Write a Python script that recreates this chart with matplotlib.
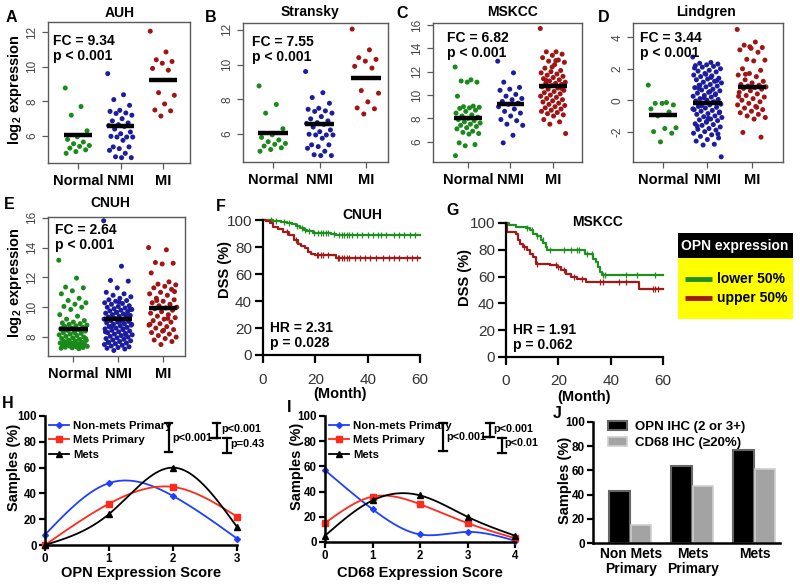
import numpy as np
import matplotlib
matplotlib.use('Agg')
import matplotlib.pyplot as plt
from matplotlib.patches import Rectangle, Patch
from matplotlib.lines import Line2D

plt.rcParams['font.family'] = ['Liberation Sans', 'DejaVu Sans']
plt.rcParams['mathtext.fontset'] = 'custom'
plt.rcParams['mathtext.bf'] = 'Liberation Sans:bold'
plt.rcParams['mathtext.rm'] = 'Liberation Sans:bold'
plt.rcParams['mathtext.default'] = 'bf'

# ---------------- data ----------------
groups = ["Normal", "NMI", "MI"]

auh_normal = [8.77, 7.7, 7.2, 6.3, 5.95, 5.8, 5.65, 5.55, 5.45, 5.4, 5.3, 5.2, 5.1, 5.0]
auh_nmi = [9.6, 8.38, 8.1, 7.77, 7.48, 7.42, 7.33, 7.3, 7.2, 7.0, 6.87, 6.75, 6.65, 6.6, 6.55,
           6.4, 6.23, 6.13, 5.98, 5.94, 5.94, 5.94, 5.75, 5.37, 5.37, 5.27, 5.17, 5.0, 4.8, 4.75, 4.75]
auh_mi = [12.05, 10.85, 10.4, 10.3, 10.2, 9.9, 9.8, 8.5, 8.35, 7.85, 7.5, 7.45, 7.15]
auh_means = [6.05, 6.6, 9.25]

stransky_normal = list(auh_normal)
stransky_nmi = list(auh_nmi)
stransky_mi = list(auh_mi)
stransky_means = [6.05, 6.6, 9.25]

mskcc_normal = [12.4, 11.3, 11.2, 11.1, 11.1, 9.9, 9.05, 9.0, 8.95, 8.9, 8.85, 8.7, 8.6, 8.45, 8.3,
                8.2, 8.1, 8.0, 7.9, 7.8, 7.7, 7.6, 7.5, 7.4, 7.3, 7.2, 7.1, 6.9, 6.8, 6.7, 6.65,
                5.9, 5.75, 5.65, 4.8]
mskcc_nmi = [12.9, 11.9, 11.1, 10.65, 10.5, 10.4, 10.05, 9.9, 9.7, 9.6, 9.45, 9.3, 9.2, 9.0, 8.8,
             8.6, 8.45, 8.2, 7.9, 7.8, 7.5, 7.4, 6.55, 5.9]
mskcc_mi = [15.7, 13.7, 13.7, 13.5, 13.4, 13.2, 13.0, 12.9, 12.8, 12.6, 12.3, 12.1, 12.0, 11.9, 11.8,
            11.7, 11.6, 11.5, 11.4, 11.3, 11.2, 11.1, 11.0, 11.0, 10.9, 10.8, 10.7, 10.6, 10.5, 10.4,
            10.3, 10.2, 10.1, 10.0, 9.9, 9.8, 9.7, 9.6, 9.5, 9.4, 9.3, 9.2, 9.1, 9.0, 8.9, 8.8, 8.7,
            8.6, 8.5, 8.4, 8.3, 8.2, 7.9, 7.7, 7.5, 6.7, 12.95, 11.25, 10.55, 12.4]
mskcc_means = [8.05, 9.25, 10.8]

lindgren_normal = [0.96, -0.15, -0.2, -0.3, -0.2, -0.55, -0.75, -1.0, -1.75, -1.8, -2.0, -2.1, -2.65]
lindgren_nmi = [2.75, 2.4, 2.35, 2.3, 2.25, 2.2, 2.15, 2.1, 2.0, 1.9, 1.85, 1.8, 1.7, 1.6, 1.55, 1.5,
                1.4, 1.35, 1.3, 1.2, 1.15, 1.1, 1.0, 0.95, 0.9, 0.85, 0.8, 0.7, 0.65, 0.6, 0.5, 0.45,
                0.4, 0.3, 0.25, 0.2, 0.1, 0.05, 0.0, -0.05, -0.1, -0.2, -0.25, -0.3, -0.4, -0.45,
                -0.5, -0.6, -0.65, -0.7, -0.8, -0.85, -0.9, -1.0, -1.05, -1.1, -1.2, -1.25, -1.3,
                -1.4, -1.5, -1.55, -1.6, -1.7, -1.8, -1.85, -1.9, -2.0, -2.1, -2.2, -2.3, -2.4,
                -2.5, -2.6, -2.8, -2.85, -3.6, 0.55, 0.75, 1.25, 1.65, 2.05, -0.15, -0.35, -0.75,
                -1.15, -1.65, 0.35, 0.15, -0.55, 1.45, 0.95, -2.15, -1.35]
lindgren_mi = [4.5, 3.7, 3.5, 3.35, 3.3, 3.2, 3.05, 2.6, 2.55, 2.5, 2.0, 1.9, 1.7, 1.6, 1.5, 1.3, 1.2,
               1.1, 1.0, 0.95, 0.9, 0.85, 0.8, 0.75, 0.7, 0.6, 0.5, 0.4, 0.3, 0.2, 0.1, 0.0, -0.1,
               -0.2, -0.3, -0.4, -0.5, -0.6, -0.7, -0.8, -0.9, -1.0, -1.1, -1.2, -2.05, -2.35, 3.4,
               0.25, -0.45, 1.65]
lindgren_means = [-0.95, -0.15, 0.85]

cnuh_normal = [13.15, 11.95, 11.35, 11.3, 11.1, 10.9, 10.6, 10.45, 10.3, 10.2, 10.05, 10.0, 9.85,
               9.5, 9.4, 9.2, 9.1, 9.0, 8.95, 8.9, 8.85, 8.8, 8.75, 8.7, 8.65, 8.6, 8.55, 8.5, 8.45,
               8.4, 8.35, 8.3, 8.25, 8.2, 8.15, 8.1, 8.05, 8.0, 7.95, 7.9, 7.85, 7.8, 7.78, 7.75,
               7.7, 7.65, 7.62, 7.6, 7.55, 7.52, 7.5, 7.48, 7.45, 7.42, 7.4, 7.38, 7.35, 7.32, 7.3,
               7.28, 7.25, 7.22, 7.6, 7.9, 8.3, 8.7, 7.35, 7.45]
cnuh_nmi = [15.8, 12.75, 11.8, 11.75, 11.3, 11.0, 10.9, 10.8, 10.7, 10.6, 10.5, 10.45, 10.4, 10.3,
            10.25, 10.2, 10.1, 10.05, 10.0, 9.95, 9.9, 9.85, 9.8, 9.75, 9.7, 9.65, 9.6, 9.55, 9.5,
            9.45, 9.4, 9.35, 9.3, 9.25, 9.2, 9.15, 9.1, 9.05, 9.0, 8.95, 8.9, 8.85, 8.8, 8.75, 8.7,
            8.65, 8.6, 8.55, 8.5, 8.45, 8.4, 8.35, 8.3, 8.25, 8.2, 8.15, 8.1, 8.05, 8.0, 7.95, 7.9,
            7.85, 7.8, 7.75, 7.7, 7.65, 7.6, 7.55, 7.5, 7.45, 7.4, 7.35, 7.3, 7.25, 7.2, 7.1,
            8.85, 9.05, 9.25, 9.45, 9.65, 8.35, 8.55, 8.75, 9.85, 10.35, 7.65, 8.15]
cnuh_mi = [14.0, 13.85, 13.0, 12.95, 12.9, 12.3, 11.7, 11.55, 11.5, 11.4, 11.3, 11.2, 11.0, 10.9,
           10.8, 10.6, 10.5, 10.4, 10.3, 10.2, 10.1, 10.0, 9.95, 9.9, 9.8, 9.7, 9.6, 9.5, 9.4, 9.3,
           9.2, 9.1, 9.0, 8.9, 8.8, 8.7, 8.6, 8.5, 8.4, 8.3, 8.2, 8.1, 8.0, 7.9, 7.8, 7.7, 7.5,
           8.85, 9.25, 10.45, 11.05, 8.45]
cnuh_means = [8.55, 9.2, 9.95]

# Kaplan-Meier (F: CNUH, G: MSKCC)
f_low_t = [0, 4, 7, 9, 11, 12.5, 14, 15.5, 17, 19, 26, 28]
f_low_s = [100, 99.5, 98.8, 98, 97, 95.5, 94, 92.5, 91.5, 90.5, 89.5, 88.7]
f_low_c = [3, 5, 8, 10, 13, 15, 16, 17.5, 19.5, 21, 22, 23, 24, 25, 27, 29, 30, 31, 32, 33, 34, 36,
           38, 40, 42, 44, 45, 47, 50, 52, 54, 56, 58]
f_up_t = [0, 1.3, 2.5, 3.8, 5.7, 7.6, 10, 12, 13.4, 14.6, 16, 17.2, 18.5, 20, 27.8]
f_up_s = [100, 99, 97.5, 95, 93, 91, 88.7, 85.5, 82.5, 81, 79, 76, 75, 74, 72]
f_up_c = [9, 12.5, 20.5, 21, 22, 23, 25, 28.5, 29, 30, 31, 32, 33, 35, 37, 39, 41, 43, 46, 48, 50,
          52, 55, 57, 59]

g_low_t = [0, 1.3, 4, 7.6, 9, 10.4, 12, 13.2, 14.2, 15.2, 15.8, 30.1, 33.3, 34.5, 35.2, 35.8, 36.5]
g_low_s = [100, 98.5, 97, 96, 94.5, 92, 90, 87.5, 85, 82, 80, 76.6, 73.4, 71, 67, 63.4, 61]
g_low_c = [8, 10, 12, 14, 17, 22, 25, 27, 28, 31, 33, 37, 38, 46, 50, 57]
g_up_t = [0, 0.5, 4, 4.7, 5.3, 6.6, 7.9, 9.1, 10.4, 11.4, 16.8, 19.3, 21.2, 23.1, 25, 27, 30.7, 51]
g_up_s = [100, 93.3, 92, 87, 84.6, 82, 79.6, 77, 74.6, 69.7, 68.4, 67, 64.7, 62.2, 59.7, 58, 56, 51]
g_up_c = [7, 12, 19, 20, 22, 26, 29, 36, 37, 43, 46, 56, 57, 58]
km_legend = ["lower 50%", "upper 50%"]

# H: OPN expression score
opn_score = [0, 1, 2, 3]
opn_nonmets = [8, 48, 38, 5]
opn_metsprim = [0, 32, 45, 22]
opn_mets = [0, 24, 60, 14]
# I: CD68 expression score
cd68_score = [0, 1, 2, 3, 4]
cd68_nonmets = [57, 26, 6, 8, 1]
cd68_metsprim = [15, 36, 30, 15, 3]
cd68_mets = [5, 33, 37, 20, 5]
series_names = ["Non-mets Primary", "Mets Primary", "Mets"]
# J bars
j_categories = ["Non Mets\nPrimary", "Mets\nPrimary", "Mets"]
j_opn = [43, 64, 77]
j_cd68 = [15, 47, 61]
j_names = ["OPN IHC (2 or 3+)", "CD68 IHC (\u226520%)"]

# ---------------- helpers ----------------
W, H = 800, 587
fig = plt.figure(figsize=(W / 100, H / 100), dpi=100)


def px_ax(l, t, r, b):
    return fig.add_axes([l / W, 1 - b / H, (r - l) / W, (b - t) / H])


def ftext(x, y, s, **kw):
    kw.setdefault('ha', 'center')
    kw.setdefault('va', 'center')
    return fig.text(x / W, 1 - y / H, s, **kw)


GREEN, BLUE, RED = '#1a8a1a', '#1c1c9e', '#a01414'
BOX = '#5a5a5a'


def scatter_panel(rect, xlim, ylim, yticks, data, means, amp=0.3):
    ax = px_ax(*rect)
    for i, (vals, col) in enumerate(zip(data, [GREEN, BLUE, RED])):
        v = np.asarray(vals, float)
        n = len(v)
        off = ((np.arange(n) * 0.6180339887) % 1.0 - 0.5) * 2 * amp
        ax.scatter(i + 1 + off, v, s=13, c=col, edgecolors='none', zorder=2)
        ax.plot([i + 1 - 0.32, i + 1 + 0.32], [means[i], means[i]], color='k', lw=3.2,
                solid_capstyle='butt', zorder=3)
    ax.set_xlim(*xlim)
    ax.set_ylim(*ylim)
    ax.set_xticks([1, 2, 3])
    ax.set_xticklabels(groups, fontsize=10.5, fontweight='bold')
    ax.set_yticks(yticks)
    ax.set_yticklabels([str(t) for t in yticks], rotation=90, va='center', fontsize=8.5,
                       color='#444444')
    for s in ax.spines.values():
        s.set_color(BOX)
        s.set_linewidth(1.0)
    ax.tick_params(axis='both', colors=BOX, length=4, width=0.9)
    ax.tick_params(axis='x', labelcolor='k', pad=4)
    ax.tick_params(axis='y', labelcolor='#444444', pad=3)
    return ax


scatter_panel((48, 22, 190, 163), (0.294, 3.635), (4.44, 12.58), [6, 8, 10, 12],
              (auh_normal, auh_nmi, auh_mi), auh_means)
scatter_panel((243, 23, 388, 162), (0.355, 3.47), (4.38, 12.4), [6, 8, 10, 12],
              (stransky_normal, stransky_nmi, stransky_mi), stransky_means)
scatter_panel((433, 23, 582, 162), (0.18, 3.68), (4.26, 16.17), [6, 8, 10, 12, 14, 16],
              (mskcc_normal, mskcc_nmi, mskcc_mi), mskcc_means)
scatter_panel((633, 23, 783, 162), (0.326, 3.70), (-3.93, 4.91), [-2, 0, 2, 4],
              (lindgren_normal, lindgren_nmi, lindgren_mi), lindgren_means, amp=0.33)
scatter_panel((48, 217, 185, 356), (0.44, 3.49), (6.73, 16.05), [8, 10, 12, 14, 16],
              (cnuh_normal, cnuh_nmi, cnuh_mi), cnuh_means, amp=0.32)

# titles / annotations for scatter panels
for (tx, ty, title) in [(120, 13, "AUH"), (310, 12, "Stransky"), (513, 12, "MSKCC"),
                        (706, 12, "Lindgren"), (110, 203, "CNUH")]:
    ftext(tx, ty, title, fontsize=10, fontweight='bold')
for (x, y, fc) in [(53, 41, "FC = 9.34"), (252, 42, "FC = 7.55"), (447, 38, "FC = 6.82"),
                   (640, 38, "FC = 3.44"), (55, 230, "FC = 2.64")]:
    ftext(x, y, fc, ha='left', fontsize=10, fontweight='bold')
    ftext(x, y + 15, "p < 0.001", ha='left', fontsize=10, fontweight='bold')
ftext(15, 90, "log$_2$ expression", rotation=90, fontsize=10.5, fontweight='bold')
ftext(15, 283, "log$_2$ expression", rotation=90, fontsize=10.5, fontweight='bold')

# panel letters
for (x, y, L) in [(11, 17, "A"), (211, 17, "B"), (402, 13, "C"), (604, 17, "D"), (9, 205, "E"),
                  (221, 207, "F"), (453, 210, "G"), (8, 404, "H"), (289, 408, "I"),
                  (557, 413, "J")]:
    ftext(x, y, L, fontsize=11.5, fontweight='bold')

# ---------------- KM panels ----------------
KM_GREEN, KM_RED = '#1f8f1f', '#a11a1a'


def km_panel(rect, curves, title_xy, title, hr, p, ylab_xy, xlab_xy, xpad):
    ax = px_ax(*rect)
    for t, s, c, col in curves:
        t = list(t) + [60]
        s = list(s) + [s[-1]]
        ax.step(t, s, where='post', color=col, lw=1.6, clip_on=False)
        tt = np.asarray(t, float)
        ss = np.asarray(s, float)
        cy = ss[np.searchsorted(tt, c, side='right') - 1]
        ax.plot(c, cy, ls='none', marker='|', ms=4, mew=0.9, color=col, clip_on=False)
    ax.set_xlim(0, 60)
    ax.set_ylim(0, 100)
    ax.set_xticks([0, 20, 40, 60])
    ax.set_yticks([0, 20, 40, 60, 80, 100])
    for k in ['top', 'right']:
        ax.spines[k].set_visible(False)
    for k in ['left', 'bottom']:
        ax.spines[k].set_linewidth(1.6)
    ax.tick_params(length=6, width=1.6, labelsize=11, labelcolor='#333333')
    ax.tick_params(axis='x', pad=xpad)
    ax.tick_params(axis='y', pad=2)
    ax.set_ylabel("DSS (%)", fontsize=10.5, fontweight='bold', va='center')
    ax.yaxis.set_label_coords(*ylab_xy)
    ax.set_xlabel("(Month)", fontsize=10.5, fontweight='bold', va='center')
    ax.xaxis.set_label_coords(*xlab_xy)
    ax.text(title_xy[0], title_xy[1], title, ha='center', va='center', fontsize=10,
            fontweight='bold')
    ax.text(2.8, 20, hr, ha='left', va='center', fontsize=10, fontweight='bold')
    ax.text(2.8, 9, p, ha='left', va='center', fontsize=10, fontweight='bold')
    return ax


km_panel((263, 220, 420, 355),
         [(f_low_t, f_low_s, f_low_c, KM_GREEN), (f_up_t, f_up_s, f_up_c, KM_RED)],
         (38, 104), "CNUH", "HR = 2.31", "p = 0.028", (-0.245, 0.63), (0.49, -0.29), 7)
km_panel((506, 223, 663, 357),
         [(g_low_t, g_low_s, g_low_c, KM_GREEN), (g_up_t, g_up_s, g_up_c, KM_RED)],
         (35, 101), "MSKCC", "HR = 1.91", "p = 0.062", (-0.26, 0.59), (0.50, -0.295), 6.5)

# KM legend box
lax = px_ax(678, 233, 793, 319)
lax.set_xlim(678, 793)
lax.set_ylim(319, 233)
lax.axis('off')
lax.add_patch(Rectangle((678, 233), 115, 25, facecolor='black', edgecolor='none'))
lax.add_patch(Rectangle((678, 258), 115, 61, facecolor='#ffff00', edgecolor='none'))
lax.text(735, 246, "OPN expression", color='white', ha='center', va='center', fontsize=10,
         fontweight='bold')
for yy, col, lab in [(279, KM_GREEN, km_legend[0]), (298, KM_RED, km_legend[1])]:
    lax.plot([685, 712], [yy, yy], color=col, lw=3.5, solid_capstyle='butt')
    lax.text(717, yy, lab, ha='left', va='center', fontsize=10, fontweight='bold')

# ---------------- H / I line panels ----------------
def nat_spline(x, y, num=200):
    x = np.asarray(x, float)
    y = np.asarray(y, float)
    n = len(x)
    h = np.diff(x)
    A = np.zeros((n, n))
    rhs = np.zeros(n)
    A[0, 0] = A[-1, -1] = 1
    for i in range(1, n - 1):
        A[i, i - 1] = h[i - 1]
        A[i, i] = 2 * (h[i - 1] + h[i])
        A[i, i + 1] = h[i]
        rhs[i] = 6 * ((y[i + 1] - y[i]) / h[i] - (y[i] - y[i - 1]) / h[i - 1])
    M = np.linalg.solve(A, rhs)
    xs = np.linspace(x[0], x[-1], num)
    idx = np.clip(np.searchsorted(x, xs) - 1, 0, n - 2)
    x0, x1 = x[idx], x[idx + 1]
    hh = x1 - x0
    a = (x1 - xs) / hh
    b = (xs - x0) / hh
    ys = a * y[idx] + b * y[idx + 1] + ((a ** 3 - a) * M[idx] + (b ** 3 - b) * M[idx + 1]) * hh ** 2 / 6
    return xs, ys


LBLUE, LRED = '#1f3fff', '#ff2a1a'
PFS = 7.8


def bracket(ax, x, y0, y1, cw):
    ax.plot([x, x], [y0, y1], color='k', lw=1.6, clip_on=False)
    ax.plot([x - cw, x + cw], [y0, y0], color='k', lw=1.6, clip_on=False)
    ax.plot([x - cw, x + cw], [y1, y1], color='k', lw=1.6, clip_on=False)


def line_panel(rect, xs, series, xlabel, brk, xlab_y, ylab_xy):
    ax = px_ax(*rect)
    styles = [(LBLUE, 'D', 3.0), (LRED, 's', 4.6), ('k', '^', 4.3)]
    handles = []
    for ys, (col, mk, ms), name in zip(series, styles, series_names):
        sx, sy = nat_spline(xs, ys)
        ax.plot(sx, sy, color=col, lw=1.3, clip_on=False)
        ax.plot(xs, ys, ls='none', marker=mk, ms=ms, color=col, clip_on=False)
        handles.append(Line2D([], [], color=col, lw=1.3, marker=mk, ms=ms))
    ax.set_xlim(xs[0], xs[-1])
    ax.set_ylim(0, 100)
    ax.set_xticks(xs)
    ax.set_yticks([0, 20, 40, 60, 80, 100])
    for k in ['top', 'right']:
        ax.spines[k].set_visible(False)
    for k in ['left', 'bottom']:
        ax.spines[k].set_linewidth(1.8)
    ax.tick_params(length=4, width=1.6, labelsize=8.3, pad=2)
    for lab in ax.get_xticklabels() + ax.get_yticklabels():
        lab.set_fontweight('bold')
    ax.set_xlabel(xlabel, fontsize=10.5, fontweight='bold', va='center')
    ax.xaxis.set_label_coords(0.5, xlab_y)
    ax.set_ylabel("Samples (%)", fontsize=10.5, fontweight='bold', va='center')
    ax.yaxis.set_label_coords(*ylab_xy)
    ax.legend(handles, series_names, loc='upper left', bbox_to_anchor=(-0.005, 1.0),
              frameon=False, handlelength=1.75, handletextpad=0.4, labelspacing=0.4,
              prop={'weight': 'bold', 'size': 8.2}, borderaxespad=0)
    (b1x, b1y0, b1y1, t1x, t1y, hx0, hx1, hy,
     b2x, b2y0, b2y1, t2x, t2y, b3x, b3y0, b3y1, t3x, t3y, t3, cw) = brk
    bracket(ax, b1x, b1y0, b1y1, cw)
    ax.text(t1x, t1y, "p<0.001", ha='left', va='center', fontsize=PFS, fontweight='bold')
    ax.plot([hx0, hx1], [hy, hy], color='k', lw=1.6, clip_on=False)
    bracket(ax, b2x, b2y0, b2y1, cw)
    ax.text(t2x, t2y, "p<0.001", ha='left', va='center', fontsize=PFS, fontweight='bold')
    bracket(ax, b3x, b3y0, b3y1, cw)
    ax.text(t3x, t3y, t3, ha='left', va='center', fontsize=PFS, fontweight='bold')
    return ax


line_panel((45, 416, 237, 545), opn_score, [opn_nonmets, opn_metsprim, opn_mets],
           "OPN Expression Score",
           (1.93, 72, 94.5, 1.99, 83, 2.6, 2.68, 83,
            2.68, 83, 94.5, 2.75, 90, 2.84, 71, 83, 2.89, 78.5, "p=0.43", 0.06),
           -0.217, (-0.16, 0.60))
line_panel((325, 416, 515, 542), cd68_score, [cd68_nonmets, cd68_metsprim, cd68_mets],
           "CD68 Expression Score",
           (2.49, 72, 94.2, 2.55, 83.5, 3.33, 3.47, 83.5,
            3.47, 83.5, 94.2, 3.55, 90, 3.72, 71, 82.5, 3.78, 78.3, "p<0.01", 0.08),
           -0.246, (-0.148, 0.60))

# ---------------- J bars ----------------
axj = px_ax(593, 422, 780, 543)
xj = np.arange(len(j_categories))
axj.bar(xj - 0.18, j_opn, width=0.34, color='black', edgecolor='#666666', linewidth=1.5)
axj.bar(xj + 0.16, j_cd68, width=0.33, color='#a3a3a3', edgecolor='#cfcfcf', linewidth=1.2)
axj.set_xlim(-0.613, 2.403)
axj.set_ylim(0, 100)
axj.set_yticks([0, 20, 40, 60, 80, 100])
axj.set_xticks(xj)
axj.set_xticklabels(j_categories, fontsize=10, fontweight='bold', linespacing=1.1)
for lab in axj.get_yticklabels():
    lab.set_fontweight('bold')
for k in ['top', 'right']:
    axj.spines[k].set_visible(False)
for k in ['left', 'bottom']:
    axj.spines[k].set_linewidth(1.8)
axj.tick_params(axis='y', length=4, width=1.6, labelsize=8.5, pad=2)
axj.tick_params(axis='x', length=0, pad=3)
axj.set_ylabel("Samples (%)", fontsize=10.5, fontweight='bold', va='center')
axj.yaxis.set_label_coords(-0.15, 0.52)
axj.legend([Patch(facecolor='black', edgecolor='#666666', linewidth=1.5),
            Patch(facecolor='#a3a3a3', edgecolor='#cfcfcf', linewidth=1.2)], j_names,
           loc='upper left', bbox_to_anchor=(0.05, 1.055), frameon=False, handlelength=1.45,
           handleheight=0.7, handletextpad=0.6, labelspacing=0.3, borderaxespad=0,
           prop={'weight': 'bold', 'size': 9.5})

fig.savefig('out.png', dpi=100)
